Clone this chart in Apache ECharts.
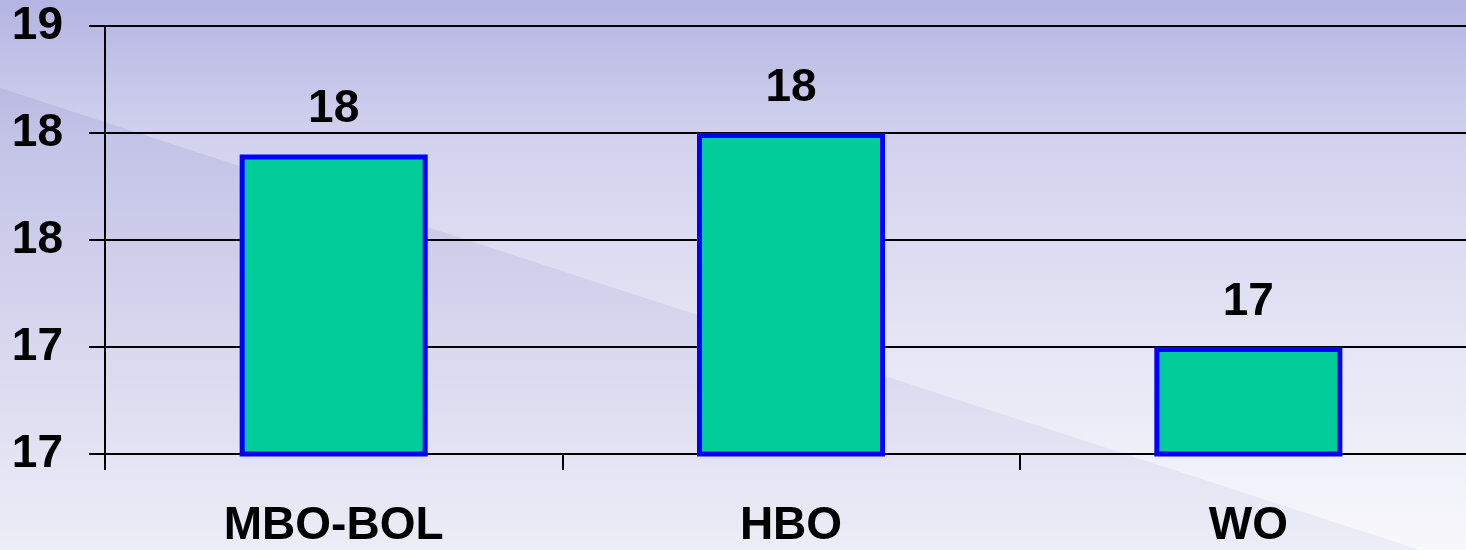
<!DOCTYPE html>
<html>
<head>
<meta charset="utf-8">
<script src="https://cdn.jsdelivr.net/npm/echarts@6/dist/echarts.min.js"></script>
<style>
  html, body { margin: 0; padding: 0; overflow: hidden; }
  /* plot runs slightly past the right edge of the window, like the original */
  #chart { width: 1477px; height: 550px; }
</style>
</head>
<body>
<div id="chart"></div>
<script>
// data
const categories = ["MBO-BOL", "HBO", "WO"];
const values = [17.9, 18.0, 17.0];
// value axis: ticks shown rounded to whole numbers like the original
const yMin = 16.5;
const yMax = 18.5;
const yStep = 0.5;

const font = "'Liberation Sans', Arial, sans-serif";

let chart = echarts.init(document.getElementById("chart"));

let option = {
  animation: false,
  graphic: {
    elements: [
      {
        // lavender background gradient
        type: "rect",
        z: -100,
        silent: true,
        shape: { x: 0, y: 0, width: 1477, height: 550 },
        style: {
          fill: new echarts.graphic.LinearGradient(0, 0, 0, 1, [
            { offset: 0, color: "#b4b4e3" },
            { offset: 0.25, color: "#d2d2ee" },
            { offset: 1, color: "#f8f8fc" },
          ]),
        },
      },
      {
        // darker diagonal band in the lower left
        type: "polygon",
        z: -99,
        silent: true,
        shape: { points: [[0, 88], [1420, 550], [0, 550]] },
        style: {
          fill: new echarts.graphic.LinearGradient(0, 0, 0, 1, [
            { offset: 0, color: "rgba(90,90,180,0.13)" },
            { offset: 1, color: "rgba(90,90,180,0.07)" },
          ]),
        },
      },
    ],
  },
  grid: {
    left: 105,
    top: 26,
    right: 0,
    bottom: 96,
  },
  xAxis: {
    type: "category",
    data: categories,
    axisLine: { lineStyle: { color: "#000", width: 2 } },
    axisTick: { show: true, length: 16, lineStyle: { color: "#000", width: 2 } },
    axisLabel: {
      color: "#000",
      fontSize: 46,
      fontWeight: "bold",
      fontFamily: font,
      margin: 49,
    },
    splitLine: { show: false },
  },
  yAxis: {
    type: "value",
    min: yMin,
    max: yMax,
    interval: yStep,
    axisLine: { show: true, lineStyle: { color: "#000", width: 2 } },
    axisTick: { show: true, length: 16, lineStyle: { color: "#000", width: 2 } },
    axisLabel: {
      color: "#000",
      fontSize: 46,
      fontWeight: "bold",
      fontFamily: font,
      margin: 42,
      formatter: (v) => Math.round(v),
    },
    splitLine: { show: true, lineStyle: { color: "#000", width: 2 } },
  },
  series: [
    {
      type: "bar",
      data: values,
      barWidth: 188,
      itemStyle: {
        color: "#00cc99",
        borderColor: "#0000ff",
        borderWidth: 5,
      },
      label: {
        show: true,
        position: "top",
        distance: 22,
        color: "#000",
        fontSize: 46,
        fontWeight: "bold",
        fontFamily: font,
        formatter: (p) => Math.round(p.value),
      },
    },
  ],
};

window.onresize = chart.resize;
chart.setOption(option);
</script>
</body>
</html>
